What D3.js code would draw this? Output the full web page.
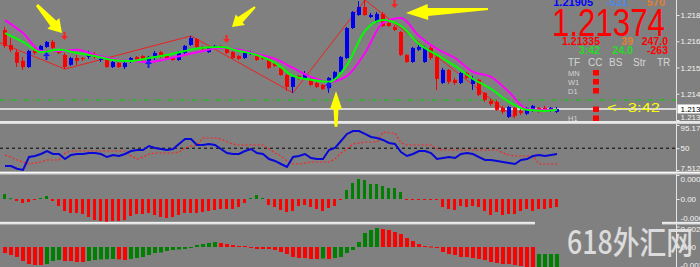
<!DOCTYPE html>
<html>
<head>
<meta charset="utf-8">
<script src="https://d3js.org/d3.v7.min.js"></script>
<style>
html, body { margin: 0; padding: 0; background: #808080; overflow: hidden; }
svg { display: block; }
</style>
</head>
<body>
<div id="chart"></div>
<script>
// ---- H1 price bars ----
var open = [1.21732,1.21664,1.21632,1.21592,1.21564,1.21642,1.21632,1.21655,1.21678,1.21637,
  1.21619,1.21574,1.21605,1.21605,1.21610,1.21623,1.21596,1.21596,1.21564,1.21583,
  1.21564,1.21587,1.21610,1.21614,1.21592,1.21605,1.21632,1.21614,1.21605,1.21596,
  1.21628,1.21664,1.21691,1.21655,1.21632,1.21655,1.21660,1.21646,1.21632,1.21614,
  1.21605,1.21623,1.21614,1.21610,1.21601,1.21583,1.21560,1.21528,1.21474,1.21524,
  1.21515,1.21510,1.21492,1.21483,1.21469,1.21506,1.21542,1.21605,1.21741,1.21800,
  1.21836,1.21791,1.21768,1.21805,1.21764,1.21746,1.21723,1.21619,1.21587,1.21642,
  1.21587,1.21651,1.21610,1.21492,1.21551,1.21506,1.21492,1.21537,1.21487,1.21506,
  1.21447,1.21411,1.21406,1.21379,1.21338,1.21379,1.21365,1.21352,1.21365,1.21379,
  1.21379,1.21365,1.21361];
var high = [1.21746,1.21696,1.21642,1.21610,1.21642,1.21651,1.21664,1.21682,1.21687,1.21642,
  1.21628,1.21610,1.21619,1.21610,1.21637,1.21632,1.21610,1.21601,1.21592,1.21587,
  1.21587,1.21610,1.21614,1.21619,1.21614,1.21637,1.21637,1.21619,1.21610,1.21637,
  1.21664,1.21705,1.21696,1.21660,1.21655,1.21664,1.21664,1.21655,1.21637,1.21619,
  1.21637,1.21637,1.21619,1.21614,1.21605,1.21587,1.21569,1.21533,1.21524,1.21528,
  1.21546,1.21515,1.21497,1.21487,1.21519,1.21546,1.21614,1.21746,1.21818,1.21863,
  1.21868,1.21809,1.21814,1.21814,1.21768,1.21755,1.21728,1.21623,1.21655,1.21664,
  1.21660,1.21660,1.21619,1.21560,1.21555,1.21515,1.21542,1.21542,1.21524,1.21510,
  1.21451,1.21420,1.21415,1.21388,1.21388,1.21383,1.21374,1.21383,1.21392,1.21383,
  1.21388,1.21383,1.21383];
var low = [1.21651,1.21632,1.21564,1.21551,1.21560,1.21619,1.21628,1.21651,1.21646,1.21623,
  1.21555,1.21569,1.21574,1.21592,1.21601,1.21601,1.21587,1.21560,1.21560,1.21560,
  1.21555,1.21583,1.21592,1.21587,1.21587,1.21596,1.21605,1.21596,1.21592,1.21592,
  1.21623,1.21660,1.21651,1.21642,1.21628,1.21651,1.21651,1.21623,1.21601,1.21596,
  1.21601,1.21619,1.21592,1.21596,1.21555,1.21564,1.21524,1.21456,1.21447,1.21506,
  1.21510,1.21478,1.21469,1.21460,1.21447,1.21501,1.21537,1.21601,1.21737,1.21796,
  1.21796,1.21786,1.21764,1.21746,1.21746,1.21728,1.21614,1.21583,1.21583,1.21637,
  1.21583,1.21596,1.21460,1.21487,1.21487,1.21483,1.21487,1.21510,1.21460,1.21433,
  1.21406,1.21388,1.21365,1.21352,1.21333,1.21333,1.21347,1.21347,1.21361,1.21356,
  1.21361,1.21361,1.21356];
var close = [1.21660,1.21642,1.21583,1.21564,1.21637,1.21628,1.21660,1.21678,1.21651,1.21628,
  1.21564,1.21605,1.21592,1.21601,1.21619,1.21610,1.21601,1.21564,1.21587,1.21564,
  1.21583,1.21605,1.21596,1.21596,1.21610,1.21628,1.21610,1.21601,1.21596,1.21632,
  1.21660,1.21696,1.21655,1.21646,1.21651,1.21660,1.21655,1.21628,1.21605,1.21601,
  1.21632,1.21628,1.21596,1.21601,1.21560,1.21569,1.21528,1.21474,1.21519,1.21515,
  1.21533,1.21483,1.21474,1.21465,1.21515,1.21542,1.21610,1.21741,1.21814,1.21836,
  1.21800,1.21800,1.21805,1.21750,1.21750,1.21732,1.21619,1.21587,1.21651,1.21655,
  1.21651,1.21605,1.21510,1.21551,1.21497,1.21492,1.21537,1.21515,1.21510,1.21438,
  1.21415,1.21397,1.21370,1.21361,1.21383,1.21343,1.21356,1.21379,1.21388,1.21370,
  1.21370,1.21379,1.21374];

// moving averages, read every third bar
var maIndex = [0,3,6,9,12,15,18,21,24,27,30,33,36,39,42,45,48,51,54,57,60,63,66,69,72,75,78,81,84,87,90,92];
var maFast = [1.21718,1.21678,1.21632,1.21642,1.21628,1.21614,1.21596,1.21592,1.21605,1.21619,
  1.21637,1.21651,1.21655,1.21637,1.21619,1.21583,1.21524,1.21506,1.21497,1.21574,
  1.21728,1.21777,1.21750,1.21669,1.21619,1.21569,1.21510,1.21465,1.21406,1.21370,1.21365,1.21370];
var maSlow = [1.21777,1.21718,1.21637,1.21637,1.21642,1.21619,1.21601,1.21592,1.21587,1.21601,
  1.21619,1.21637,1.21651,1.21642,1.21623,1.21601,1.21560,1.21519,1.21497,1.21524,
  1.21628,1.21764,1.21786,1.21705,1.21646,1.21605,1.21542,1.21519,1.21451,1.21374,1.21370,1.21370];

// zigzag turning points
var zigIndex = [-2,10,31,48,60,85];
var zigPrice = [1.21687,1.21555,1.21705,1.21447,1.21868,1.21333];

// signal arrows [bar, price at tip]
var sellArrows = [[10,1.21687],[37,1.21673],[65,1.21832]];
var buyArrows = [[7,1.21632],[24,1.21596],[54,1.21497]];

// yellow hand-drawn arrows [bar, price]
var noteFrom = [[5.33,1.21845],[41.67,1.21836],[55.17,1.21293],[80.5,1.21827]];
var noteTo = [[9.5,1.21718],[37.83,1.21746],[55.17,1.21456],[66.83,1.21809]];

var bidPrice = 1.21374;
var levelPrice = 1.21415;
var priceTicks = [1.21800,1.21681,1.21562,1.21443,1.21324];

// oscillator pane
var rsiMain = [15.3,15.3,10.0,7.6,32.8,34.8,38.7,44.5,38.7,38.7,
  28.9,36.7,38.7,38.7,40.6,40.6,38.7,32.8,36.7,34.8,
  38.7,44.5,46.5,46.5,54.3,50.4,48.4,46.5,48.4,58.2,
  67.9,67.9,56.2,56.2,58.2,56.2,48.4,40.6,38.7,38.7,
  44.5,48.4,40.6,38.7,28.9,25.1,19.2,13.4,32.8,34.8,
  38.7,30.9,28.9,28.9,46.5,50.4,64.0,77.7,83.5,83.5,
  77.7,71.8,69.9,66.0,60.1,58.2,42.6,34.8,38.7,44.5,
  44.5,40.6,28.9,30.9,32.8,30.9,38.7,40.6,38.7,32.8,
  27.0,27.0,25.1,23.1,21.2,19.2,27.0,28.9,34.8,36.7,
  34.8,36.7,38.7];
var rsiSignal = [36.7,32.8,27.0,23.1,19.2,21.2,23.1,27.0,27.0,27.0,
  40.6,44.5,44.5,44.5,44.5,44.5,44.5,44.5,44.5,44.5,
  44.5,34.8,28.9,32.8,38.7,40.6,40.6,40.6,40.6,42.6,
  50.4,54.3,56.2,69.9,69.9,69.9,67.9,62.1,58.2,56.2,
  56.2,56.2,56.2,56.2,48.4,40.6,34.8,25.1,19.2,19.2,
  21.2,23.1,23.1,23.1,23.1,28.9,40.6,48.4,58.2,60.1,
  62.1,62.1,62.1,81.6,79.6,79.6,60.1,56.2,56.2,56.2,
  56.2,56.2,48.4,46.5,46.5,46.5,46.5,46.5,46.5,46.5,
  46.5,46.5,46.5,40.6,36.7,34.8,34.8,34.8,34.8,19.2,
  19.2,19.2,19.2];
var rsiTicks = [95.176, 50, 7.5122];

// histogram panes
var hist1 = [0.000025,0.000004,-0.00001,-0.00002,-0.000015,-0.000005,0.000005,0.000015,-0.00001,-0.000035,
  -0.00006,-0.00007,-0.00007,-0.000075,-0.00009,-0.000105,-0.00011,-0.000115,-0.00011,-0.00011,
  -0.000105,-0.000085,-0.000075,-0.000075,-0.00007,-0.00008,-0.00009,-0.000095,-0.00009,-0.00008,
  -0.00007,-0.00007,-0.00007,-0.000065,-0.00006,-0.000055,-0.00005,-0.00005,-0.00005,-0.00004,
  -0.00002,0.000005,0.00002,0.000005,-0.00003,-0.00004,-0.000055,-0.000065,-0.00006,-0.000035,
  -0.00003,-0.00004,-0.00005,-0.00006,-0.000045,-0.000035,-0.000005,0.000045,0.00008,0.0001,
  0.000095,0.000075,0.000075,0.000065,0.000055,0.000055,0.000035,-0.000005,-0.000005,-0.000005,
  -0.000005,-0.000005,-0.000005,-0.00004,-0.00005,-0.000055,-0.000035,-0.00004,-0.000035,-0.00004,
  -0.00006,-0.00008,-0.000065,-0.00008,-0.000075,-0.000075,-0.00006,-0.00005,-0.00006,-0.00005,
  -0.00005,-0.000045,-0.00004];
var hist1Ticks = [0.00012, 0, -0.000115];

var hist2 = [-0.0006,-0.0008,-0.0010,-0.0014,-0.0017,-0.0018,-0.0018,-0.0017,-0.0014,-0.0013,
  -0.0014,-0.0014,-0.0015,-0.0015,-0.0014,-0.0013,-0.00125,-0.00122,-0.0012,-0.00123,
  -0.0013,-0.0012,-0.0011,-0.0010,-0.0008,-0.0006,-0.00055,-0.0004,-0.0003,-0.00025,
  -0.0002,-0.0001,0.0002,0.0003,0.0004,0.0005,0.0004,0.0003,0.0002,0.0001,
  0.0001,-0.00005,-0.0002,-0.0002,-0.0002,-0.0003,-0.0005,-0.0007,-0.0010,-0.0011,
  -0.0011,-0.0012,-0.0012,-0.00115,-0.0012,-0.0011,-0.0010,-0.0006,-0.0003,0.0005,
  0.0014,0.0017,0.0019,0.0018,0.0017,0.0015,0.0013,0.0009,0.0006,0.0003,
  0.0001,0.00005,-0.0001,-0.0005,-0.0007,-0.0008,-0.0010,-0.0010,-0.0011,-0.0012,
  -0.0013,-0.0015,-0.0016,-0.0017,-0.0017,-0.0018,-0.0019,-0.0020,-0.00215,-0.0021,
  -0.00208,-0.00206,-0.00204];
var hist2Ticks = [0.00205, 0, -0.0021];

var W = 700, H = 267, axisX = 676.5;
var font = "'Liberation Sans', Arial, sans-serif";
var BULL = "#0000f0", BEAR = "#ff0000", HGREEN = "#008000";

var svg = d3.select("#chart").append("svg").attr("width", W).attr("height", H);
svg.append("rect").attr("width", W).attr("height", H).attr("fill", "#808080");
var defs = svg.append("defs");
function clip(id, y0, y1) {
    defs.append("clipPath").attr("id", id).append("rect")
        .attr("x", 0).attr("y", y0).attr("width", axisX).attr("height", y1 - y0);
    return "url(#" + id + ")";
}

var N = close.length;
var x = d3.scaleLinear().domain([0, N - 1]).range([5, 5 + 6 * (N - 1)]);
var yMain = d3.scaleLinear().domain([1.21324, 1.21868]).range([120, 0]);
var yRsi = d3.scaleLinear().domain([7.5122, 95.176]).range([170, 125]);
var yH1 = d3.scaleLinear().domain([-0.000115, 0.00012]).range([222, 175]);
var yH2 = d3.scaleLinear().domain([-0.0021, 0.00205]).range([268, 226.5]);

// ---------- main pane ----------
var gMain = svg.append("g").attr("clip-path", clip("cMain", 0, 121));

gMain.append("line").attr("x1", 0).attr("x2", axisX)
    .attr("y1", yMain(levelPrice)).attr("y2", yMain(levelPrice))
    .attr("stroke", "#00d000").attr("stroke-dasharray", "5,3,1,3");
gMain.append("line").attr("x1", 0).attr("x2", axisX)
    .attr("y1", yMain(bidPrice)).attr("y2", yMain(bidPrice))
    .attr("stroke", "#f4f4f4").attr("stroke-width", 1.5);

gMain.append("path")
    .datum(zigIndex.map(function (d, k) { return [d, zigPrice[k]]; }))
    .attr("d", d3.line().x(function (d) { return x(d[0]); }).y(function (d) { return yMain(d[1]); }))
    .attr("fill", "none").attr("stroke", "#ee2020").attr("stroke-width", 1);

var bars = d3.range(N).map(function (i) {
    return { i: i, o: open[i], h: high[i], l: low[i], c: close[i] };
});
var cg = gMain.selectAll("g.bar").data(bars).enter().append("g").attr("class", "bar")
    .attr("fill", function (d) { return d.c >= d.o ? BULL : BEAR; })
    .attr("stroke", function (d) { return d.c >= d.o ? BULL : BEAR; });
cg.append("line")
    .attr("x1", function (d) { return x(d.i) - 0.5; })
    .attr("x2", function (d) { return x(d.i) - 0.5; })
    .attr("y1", function (d) { return yMain(d.h); })
    .attr("y2", function (d) { return yMain(d.l); });
cg.append("rect")
    .attr("stroke", "none")
    .attr("x", function (d) { return x(d.i) - 2; })
    .attr("width", 4)
    .attr("y", function (d) { return yMain(Math.max(d.o, d.c)); })
    .attr("height", function (d) { return Math.max(1, Math.abs(yMain(d.o) - yMain(d.c))); });

var maLine = d3.line()
    .x(function (d) { return x(d[0]); })
    .y(function (d) { return yMain(d[1]); })
    .curve(d3.curveMonotoneX);
gMain.append("path").datum(maIndex.map(function (d, k) { return [d, maSlow[k]]; }))
    .attr("d", maLine).attr("fill", "none").attr("stroke", "#ff00ff").attr("stroke-width", 2);
gMain.append("path").datum(maIndex.map(function (d, k) { return [d, maFast[k]]; }))
    .attr("d", maLine).attr("fill", "none").attr("stroke", "#00ff00").attr("stroke-width", 2);

function smallArrow(px, py, s) {
    // s = 1 points down (tip at py), s = -1 points up
    return "M" + px + "," + py +
        "L" + (px - 3.5) + "," + (py - 4 * s) + "L" + (px - 1) + "," + (py - 4 * s) +
        "L" + (px - 1) + "," + (py - 8 * s) + "L" + (px + 1) + "," + (py - 8 * s) +
        "L" + (px + 1) + "," + (py - 4 * s) + "L" + (px + 3.5) + "," + (py - 4 * s) + "Z";
}
gMain.selectAll("path.sell").data(sellArrows).enter().append("path").attr("class", "sell")
    .attr("d", function (d) { return smallArrow(x(d[0]) - 0.5, yMain(d[1]), 1); })
    .attr("fill", "#ff2020");
gMain.selectAll("path.buy").data(buyArrows).enter().append("path").attr("class", "buy")
    .attr("d", function (d) { return smallArrow(x(d[0]) - 0.5, yMain(d[1]), -1); })
    .attr("fill", "#1a1aff");

// ---------- oscillator pane ----------
var gRsi = svg.append("g").attr("clip-path", clip("cRsi", 124, 171.5));
gRsi.append("line").attr("x1", 0).attr("x2", axisX).attr("y1", yRsi(50)).attr("y2", yRsi(50))
    .attr("stroke", "#000").attr("stroke-dasharray", "3,3");
var rLine = d3.line().x(function (d, i) { return x(i); }).y(function (d) { return yRsi(d); });
gRsi.append("path").datum(rsiSignal).attr("d", rLine)
    .attr("fill", "none").attr("stroke", "#ff2020").attr("stroke-width", 1.2).attr("stroke-dasharray", "2,2");
gRsi.append("path").datum(rsiMain).attr("d", rLine)
    .attr("fill", "none").attr("stroke", "#0808d8").attr("stroke-width", 2);

// ---------- histogram panes ----------
var gH1 = svg.append("g").attr("clip-path", clip("cH1", 174.5, 222));
gH1.selectAll("rect").data(hist1).enter().append("rect")
    .attr("x", function (d, i) { return x(i) - 2; })
    .attr("width", 3)
    .attr("y", function (d) { return Math.min(yH1(0), yH1(d)); })
    .attr("height", function (d) { return Math.max(1, Math.abs(yH1(d) - yH1(0))); })
    .attr("fill", function (d) { return d > 0 ? HGREEN : BEAR; });

var gH2 = svg.append("g").attr("clip-path", clip("cH2", 224.5, 280));
gH2.selectAll("rect").data(hist2).enter().append("rect")
    .attr("x", function (d, i) { return x(i) - 2; })
    .attr("width", 4)
    .attr("y", function (d) { return Math.min(yH2(0), yH2(d)); })
    .attr("height", function (d) { return Math.max(1, Math.abs(yH2(d) - yH2(0))); })
    .attr("fill", function (d, i) { return i > 0 && d > hist2[i - 1] ? HGREEN : BEAR; });

// ---------- separators & axis ----------
[[121, 3, 0, W], [171.5, 3, 0, W], [221.8, 2.7, 0, 535], [221.8, 2.7, 662, W]].forEach(function (s) {
    svg.append("rect").attr("x", s[2]).attr("y", s[0]).attr("width", s[3] - s[2]).attr("height", s[1]).attr("fill", "#d6d6d6");
    svg.append("line").attr("x1", s[2]).attr("x2", s[3]).attr("y1", s[0] + 1).attr("y2", s[0] + 1)
        .attr("stroke", "#fafafa").attr("stroke-width", 1);
});
svg.append("line").attr("x1", axisX).attr("x2", axisX).attr("y1", 0).attr("y2", H)
    .attr("stroke", "#e4e4e4").attr("stroke-width", 1);

function rightAxis(scale, ticks, fmt, y0, y1) {
    var g = svg.append("g").attr("transform", "translate(" + axisX + ",0)")
        .call(d3.axisRight(scale).tickValues(ticks).tickFormat(fmt).tickSize(3).tickPadding(1));
    g.select(".domain").remove();
    g.selectAll(".tick line").attr("stroke", "#e8e8e8");
    g.selectAll(".tick text")
        .attr("fill", "#f4f4f4")
        .style("font", "8px " + font)
        .attr("y", function (d) {
            var yy = scale(d);
            var cy = Math.max(y0 + 4, Math.min(y1 - 4, yy));
            return cy - yy;
        });
}
rightAxis(yMain, priceTicks, d3.format(".5f"), 0, 121);
rightAxis(yRsi, rsiTicks, function (d) { return String(d); }, 124, 171.5);
rightAxis(yH1, hist1Ticks, function (d) { return d === 0 ? "0.00" : d.toFixed(6); }, 174.5, 221.5);
rightAxis(yH2, hist2Ticks, function (d) { return d === 0 ? "0.00" : d.toFixed(6); }, 224.5, 269);

// bid box on axis
svg.append("rect").attr("x", axisX + 1).attr("y", yMain(bidPrice) - 4.5).attr("width", 24).attr("height", 9)
    .attr("fill", "#ffffff");
svg.append("text").attr("x", axisX + 4).attr("y", yMain(bidPrice) + 3)
    .style("font", "8px " + font).attr("fill", "#000").text(d3.format(".5f")(bidPrice));

// ---------- yellow notes ----------
function fatArrow(x1, y1, x2, y2, tw, nw, hw, hl) {
    var dx = x2 - x1, dy = y2 - y1, L = Math.sqrt(dx * dx + dy * dy);
    var ux = dx / L, uy = dy / L, nx = -uy, ny = ux;
    var bx = x2 - ux * hl, by = y2 - uy * hl;
    var pts = [[x1 + nx * tw / 2, y1 + ny * tw / 2], [bx + nx * nw / 2, by + ny * nw / 2],
        [bx + nx * hw / 2, by + ny * hw / 2], [x2, y2], [bx - nx * hw / 2, by - ny * hw / 2],
        [bx - nx * nw / 2, by - ny * nw / 2], [x1 - nx * tw / 2, y1 - ny * tw / 2]];
    return "M" + pts.join("L") + "Z";
}
var noteShape = [[3, 8, 16, 13], [2, 7, 14, 11], [3, 5, 12, 18], [2, 8, 16, 22]];
noteFrom.forEach(function (f, k) {
    var t = noteTo[k], s = noteShape[k];
    svg.append("path")
        .attr("d", fatArrow(x(f[0]), yMain(f[1]), x(t[0]), yMain(t[1]), s[0], s[1], s[2], s[3]))
        .attr("fill", "#ffff00");
});

// ---------- info panel ----------
var info = svg.append("g").style("font-family", font);
function txt(tx, ty, str, size, color, weight, anchor) {
    return info.append("text").attr("x", tx).attr("y", ty).text(str)
        .style("font-size", size + "px").style("font-weight", weight || "normal")
        .attr("fill", color).attr("text-anchor", anchor || "start");
}
txt(593, 5.5, "1.21905", 11, "#0000ff", "bold", "end");
txt(628, 5.5, "-531", 11, "#4d88e6", "bold", "end");
txt(665, 5.5, "570", 11, "#e08030", "bold", "end");
txt(552, 35.5, d3.format(".5f")(bidPrice), 38, "#ff0000").attr("textLength", 113).attr("lengthAdjust", "spacingAndGlyphs");
txt(600, 45, "1.21335", 10.5, "#ff0000", "bold", "end");
txt(633, 45, "39", 10.5, "#e08030", "bold", "end");
txt(668, 45, "247.0", 10.5, "#ff0000", "bold", "end");
txt(600, 54, "3:42", 10.5, "#22dd22", "bold", "end");
txt(633, 54, "24.0", 10.5, "#22dd22", "bold", "end");
txt(668, 54, "-263", 10.5, "#ff0000", "bold", "end");
[["TF", 568], ["CC", 588], ["BS", 609], ["Str", 633], ["TR", 657]].forEach(function (h) {
    txt(h[1], 65.5, h[0], 10, "#d4d4d4");
});
[["MN", 75.5], ["W1", 84.5], ["D1", 93.5], ["H1", 120.5]].forEach(function (r) {
    txt(568, r[1], r[0], 7.5, "#d4d4d4");
});
[70, 79, 88, 106.5, 115.5].forEach(function (ry) {
    info.append("rect").attr("x", 593).attr("y", ry).attr("width", 6).attr("height", 5.5).attr("fill", "#ff0000");
});
txt(607, 112, "<--3:42", 13, "#ffff00").attr("textLength", 53).attr("lengthAdjust", "spacingAndGlyphs");

// watermark
svg.append("rect").attr("x", 535).attr("y", 221.5).attr("width", 127).attr("height", 32.5).attr("fill", "#808080");
svg.append("text").attr("x", 567).attr("y", 254).text("618外汇网")
    .style("font-family", "'Noto Sans CJK SC', sans-serif").style("font-size", "32px").style("font-weight", "500")
    .attr("textLength", 126).attr("lengthAdjust", "spacingAndGlyphs")
    .attr("fill", "#e4e4e4").attr("opacity", 0.92);
</script>
</body>
</html>
